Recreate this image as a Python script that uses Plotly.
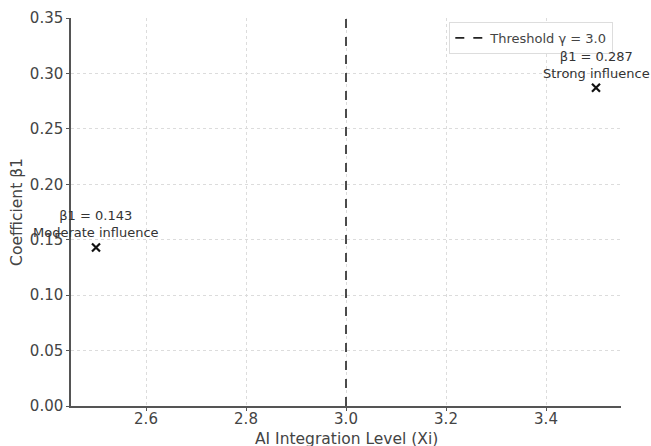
import plotly.graph_objects as go

x_levels = [2.5, 3.5]
beta_values = [0.143, 0.287]
labels = ["β1 = 0.143<br>Moderate influence", "β1 = 0.287<br>Strong influence"]
threshold = 3.0
x_ticks = [2.6, 2.8, 3.0, 3.2, 3.4]
y_ticks = [0.00, 0.05, 0.10, 0.15, 0.20, 0.25, 0.30, 0.35]
x_title = "AI Integration Level (Xi)"
y_title = "Coefficient β1"

FONT = "DejaVu Sans"
fig = go.Figure()

fig.add_trace(go.Scatter(
    x=[threshold, threshold], y=[0, 0.35], mode="lines",
    line=dict(color="#222222", width=1.6, dash="dash"),
    name="Threshold γ = 3.0", showlegend=True))

fig.add_trace(go.Scatter(
    x=x_levels, y=beta_values, mode="markers",
    marker=dict(symbol="x-thin", size=8, line=dict(color="#111111", width=2.2)),
    showlegend=False))

for xv, yv, t in zip(x_levels, beta_values, labels):
    fig.add_annotation(x=xv, y=yv, text=t, showarrow=False,
                       xanchor="center", yanchor="bottom", yshift=5,
                       font=dict(family=FONT, size=13, color="#333333"))

# x-axis title placed just below the tick labels, partly cut by the page edge
fig.add_annotation(x=0.5, y=0, xref="paper", yref="paper", text=x_title,
                   showarrow=False, xanchor="center", yanchor="middle",
                   yshift=-33, font=dict(family=FONT, size=15.5, color="#444444"))

fig.update_layout(
    width=651, height=446,
    margin=dict(l=71, r=30, t=18, b=40),
    paper_bgcolor="white", plot_bgcolor="white",
    font=dict(family=FONT, size=15, color="#444444"),
    legend=dict(x=0.986, y=0.99, xanchor="right", yanchor="top",
                bgcolor="white", bordercolor="#dddddd", borderwidth=1,
                font=dict(family=FONT, size=13, color="#444444")),
    xaxis=dict(range=[2.45, 3.55], tickvals=x_ticks,
               ticktext=[f"{v:.1f}" for v in x_ticks],
               showline=True, linecolor="#555555", linewidth=1.5,
               ticks="outside", ticklen=3, tickcolor="#555555",
               ticklabelstandoff=-5,
               showgrid=True, gridcolor="#dcdcdc", griddash="dot", gridwidth=1,
               zeroline=False, automargin=False),
    yaxis=dict(range=[0, 0.35], tickvals=y_ticks,
               ticktext=[f"{v:.2f}" for v in y_ticks],
               showline=True, linecolor="#555555", linewidth=1.5,
               ticks="outside", ticklen=3, tickcolor="#555555",
               showgrid=True, gridcolor="#dcdcdc", griddash="dot", gridwidth=1,
               zeroline=False, automargin=False,
               title=dict(text=y_title, standoff=3,
                          font=dict(family=FONT, size=15.5, color="#444444"))),
)

fig.write_html("out.html")
